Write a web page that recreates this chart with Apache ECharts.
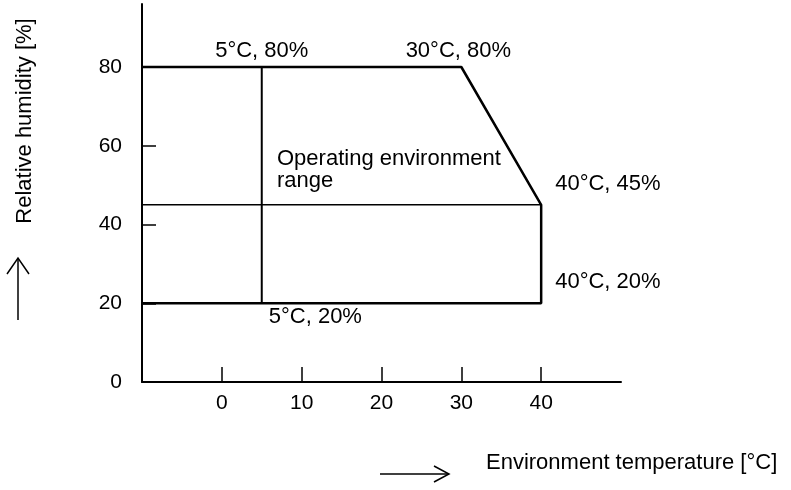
<!DOCTYPE html>
<html>
<head>
<meta charset="utf-8">
<style>
  html, body { margin: 0; padding: 0; background: #fff; }
  #chart { width: 791px; height: 490px; }
</style>
<script src="https://cdn.jsdelivr.net/npm/echarts@6/dist/echarts.min.js"></script>
</head>
<body>
<div id="chart"></div>
<script>
// Operating envelope: temperature [°C] vs relative humidity [%]
const envelope = [[-10, 80], [30, 80], [40, 45], [40, 20], [-10, 20]];
const divider5C = [[5, 20], [5, 80]];
const divider45 = [[-10, 45], [40, 45]];
// Corner points that carry a value label
const corners = [[5, 80], [30, 80], [40, 45], [40, 20], [5, 20]];
const xTickValues = [0, 10, 20, 30, 40];
const yTickValues = [20, 40, 60, 80];
const yLabelValues = [0, 20, 40, 60, 80];

const FONT = "'Liberation Sans', Arial, Helvetica, sans-serif";
const INK = '#000';

const labelPlacement = {
  '5,80':  { position: 'top', distance: 5 },
  '30,80': { position: 'top', distance: 5, offset: [-3, 0] },
  '40,45': { position: 'right', distance: 14, offset: [0, -21] },
  '40,20': { position: 'right', distance: 14, offset: [0, -21] },
  '5,20':  { position: 'right', distance: 7, offset: [0, 14] }
};

const chart = echarts.init(document.getElementById('chart'), null, { renderer: 'canvas' });

const lineSeries = (data, width) => ({
  type: 'line',
  data: data,
  symbol: 'none',
  silent: true,
  animation: false,
  lineStyle: { color: INK, width: width },
  z: 3
});

const cornerLabel = extra => Object.assign({
  show: true,
  color: INK,
  opacity: 1,
  fontSize: 22,
  fontFamily: FONT,
  formatter: p => `${p.value[0]}°C, ${p.value[1]}%`
}, extra);

chart.setOption({
  backgroundColor: '#fff',
  animation: false,
  textStyle: { fontFamily: FONT },
  grid: { left: 142, right: 170, top: 4, bottom: 108 },
  xAxis: {
    type: 'value',
    min: -10,
    max: 50,
    splitLine: { show: false },
    axisLine: { onZero: false, lineStyle: { color: INK, width: 2 } },
    axisTick: { inside: true, length: 15, customValues: xTickValues, lineStyle: { color: INK, width: 1.5 } },
    axisLabel: { customValues: xTickValues, margin: 11, fontSize: 21, color: INK, fontFamily: FONT }
  },
  yAxis: {
    type: 'value',
    min: 0,
    max: 96,
    splitLine: { show: false },
    axisLine: { onZero: false, lineStyle: { color: INK, width: 2 } },
    axisTick: { inside: true, length: 14, customValues: yTickValues, lineStyle: { color: INK, width: 1.5 } },
    axisLabel: { customValues: yLabelValues, margin: 20, fontSize: 21, color: INK, fontFamily: FONT }
  },
  series: [
    lineSeries(envelope, 2.5),
    lineSeries(divider5C, 2),
    lineSeries(divider45, 1.5),
    {
      type: 'scatter',
      symbolSize: 0,
      silent: true,
      z: 4,
      itemStyle: { opacity: 1, color: INK },
      label: cornerLabel({}),
      data: corners.map(c => ({ value: c, label: cornerLabel(labelPlacement[c.join(',')]) }))
    }
  ],
  graphic: [
    {
      type: 'text', left: 277, top: 148, z: 10,
      style: { text: 'Operating environment\nrange', font: `22px ${FONT}`, fill: INK, lineHeight: 22 }
    },
    {
      type: 'text', x: 25, y: 121, rotation: Math.PI / 2, z: 10,
      style: { text: 'Relative humidity [%]', font: `22px ${FONT}`, fill: INK, align: 'center', verticalAlign: 'middle' }
    },
    {
      type: 'text', left: 486, top: 452, z: 10,
      style: { text: 'Environment temperature [°C]', font: `22px ${FONT}`, fill: INK }
    },
    // arrow beside the humidity title
    { type: 'polyline', z: 10, shape: { points: [[18, 320], [18, 258]] }, style: { stroke: INK, lineWidth: 1.5, fill: null } },
    { type: 'polyline', z: 10, shape: { points: [[7, 274], [18, 258], [29, 274]] }, style: { stroke: INK, lineWidth: 1.5, fill: null } },
    // arrow beside the temperature title
    { type: 'polyline', z: 10, shape: { points: [[380, 474], [449, 474]] }, style: { stroke: INK, lineWidth: 1.5, fill: null } },
    { type: 'polyline', z: 10, shape: { points: [[434, 466], [449, 474], [434, 482]] }, style: { stroke: INK, lineWidth: 1.5, fill: null } }
  ]
});
</script>
</body>
</html>
